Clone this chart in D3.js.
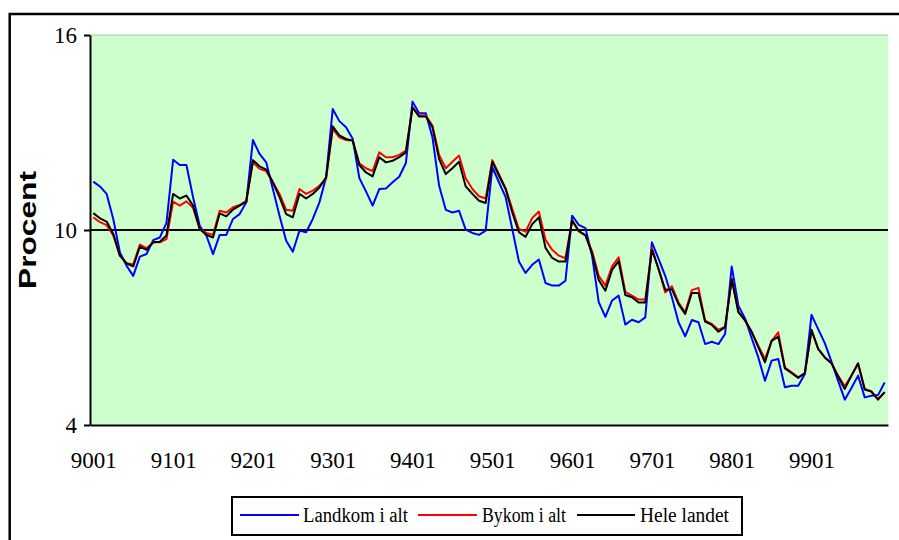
<!DOCTYPE html>
<html>
<head>
<meta charset="utf-8">
<script src="https://cdn.jsdelivr.net/npm/d3@7"></script>
<style>
  body { margin: 0; background: #fff; }
  svg text.serif { font-family: "Liberation Serif", "Times New Roman", Times, serif; }
</style>
</head>
<body>
<div id="chart"></div>
<script>
// Monthly data 9001 - 9912 (procent)
const years = ["90", "91", "92", "93", "94", "95", "96", "97", "98", "99"];
const monthCodes = ["01", "02", "03", "04", "05", "06", "07", "08", "09", "10", "11", "12"];
const xTickLabels = ["9001", "9101", "9201", "9301", "9401", "9501", "9601", "9701", "9801", "9901"];
const yTickValues = [4, 10, 16];

const landkom = [
  11.49, 11.34, 11.11, 10.34, 9.31, 8.90, 8.59, 9.18, 9.26, 9.69, 9.77, 10.22,
  12.16, 12.00, 12.00, 11.01, 10.13, 9.83, 9.26, 9.85, 9.85, 10.34, 10.49, 10.85,
  12.77, 12.34, 12.08, 11.26, 10.44, 9.67, 9.33, 9.98, 9.93, 10.34, 10.85, 11.62,
  13.72, 13.35, 13.16, 12.81, 11.60, 11.19, 10.75, 11.26, 11.28, 11.47, 11.64, 12.06,
  13.95, 13.59, 13.59, 12.85, 11.36, 10.62, 10.54, 10.59, 10.01, 9.91, 9.85, 9.98,
  11.93, 11.47, 11.01, 10.03, 9.03, 8.68, 8.93, 9.09, 8.37, 8.29, 8.29, 8.44,
  10.44, 10.16, 10.06, 9.21, 7.78, 7.33, 7.83, 7.98, 7.09, 7.24, 7.16, 7.31,
  9.62, 9.11, 8.59, 7.93, 7.16, 6.73, 7.23, 7.16, 6.49, 6.56, 6.49, 6.80,
  8.88, 7.67, 7.28, 6.67, 6.08, 5.36, 5.98, 6.03, 5.16, 5.21, 5.21, 5.57,
  7.39, 6.95, 6.52, 5.95, 5.36, 4.78, 5.14, 5.52, 4.85, 4.90, 4.92, 5.31
];

const bykom = [
  10.39, 10.24, 10.15, 9.83, 9.21, 8.98, 8.94, 9.55, 9.44, 9.62, 9.62, 9.72,
  10.87, 10.75, 10.88, 10.68, 10.03, 9.91, 9.85, 10.59, 10.54, 10.70, 10.77, 10.90,
  12.08, 11.88, 11.81, 11.47, 11.11, 10.62, 10.59, 11.26, 11.11, 11.21, 11.36, 11.57,
  13.11, 12.85, 12.77, 12.75, 12.05, 11.90, 11.81, 12.39, 12.24, 12.24, 12.31, 12.44,
  13.77, 13.52, 13.52, 13.21, 12.31, 11.90, 12.10, 12.29, 11.59, 11.26, 11.04, 10.97,
  12.15, 11.72, 11.28, 10.65, 10.03, 9.95, 10.37, 10.57, 9.70, 9.39, 9.21, 9.13,
  10.30, 9.96, 9.83, 9.35, 8.59, 8.29, 8.88, 9.16, 8.10, 7.98, 7.86, 7.86,
  9.44, 8.80, 8.08, 8.27, 7.77, 7.47, 8.15, 8.22, 7.21, 7.11, 6.93, 7.03,
  8.49, 7.49, 7.21, 6.85, 6.44, 6.03, 6.59, 6.85, 5.77, 5.62, 5.47, 5.60,
  6.90, 6.34, 6.08, 5.90, 5.52, 5.19, 5.52, 5.88, 5.11, 5.03, 4.80, 5.01
];

const heleLandet = [
  10.52, 10.36, 10.26, 9.88, 9.21, 8.97, 8.88, 9.49, 9.39, 9.62, 9.64, 9.83,
  11.11, 10.97, 11.06, 10.75, 10.03, 9.85, 9.77, 10.51, 10.42, 10.63, 10.75, 10.87,
  12.15, 11.96, 11.86, 11.47, 11.01, 10.49, 10.39, 11.11, 10.97, 11.11, 11.31, 11.62,
  13.19, 12.91, 12.80, 12.75, 12.00, 11.77, 11.65, 12.24, 12.08, 12.13, 12.24, 12.39,
  13.77, 13.49, 13.49, 13.16, 12.18, 11.72, 11.90, 12.10, 11.34, 11.11, 10.90, 10.83,
  12.10, 11.67, 11.26, 10.54, 9.93, 9.79, 10.18, 10.39, 9.45, 9.14, 9.03, 9.03,
  10.29, 9.97, 9.84, 9.28, 8.46, 8.13, 8.77, 9.04, 8.00, 7.93, 7.77, 7.77,
  9.39, 8.80, 8.16, 8.18, 7.72, 7.42, 8.06, 8.06, 7.18, 7.08, 6.87, 7.01,
  8.49, 7.47, 7.23, 6.87, 6.39, 5.93, 6.59, 6.72, 5.74, 5.60, 5.45, 5.60,
  6.93, 6.34, 6.08, 5.90, 5.49, 5.11, 5.52, 5.90, 5.09, 5.03, 4.78, 5.01
];

const seriesNames = ["Landkom i alt", "Bykom i alt", "Hele landet"];
const seriesColors = ["#0000ff", "#ff0000", "#000000"];

// category labels 9001 .. 9912
const months = [];
years.forEach(yy => monthCodes.forEach(mm => months.push(yy + mm)));

const margin = {top: 35, right: 11, bottom: 115, left: 90},
  width = 899 - margin.left - margin.right,
  height = 540 - margin.top - margin.bottom;

const root = d3.select("#chart")
  .append("svg")
  .attr("width", 899)
  .attr("height", 540);

// outer chart frame (runs off the right and bottom of the picture)
root.append("rect")
  .attr("x", 9.7)
  .attr("y", 14)
  .attr("width", 920)
  .attr("height", 600)
  .attr("fill", "none")
  .attr("stroke", "#000")
  .attr("stroke-width", 2.5);

const svg = root.append("g")
  .attr("transform", `translate(${margin.left},${margin.top})`);

// scales
const x = d3.scalePoint()
  .domain(months)
  .range([0, width])
  .padding(0.5);

const y = d3.scaleLinear()
  .domain([4, 16])
  .range([height, 0]);

// plot area
svg.append("rect")
  .attr("width", width)
  .attr("height", height)
  .attr("fill", "#ccffcc");

// top gridline (16) is faint, the 10 gridline is black
svg.append("line")
  .attr("x1", 0).attr("x2", width)
  .attr("y1", y(16)).attr("y2", y(16))
  .attr("stroke", "#a8c8a8")
  .attr("stroke-width", 1);

svg.append("line")
  .attr("x1", 0).attr("x2", width)
  .attr("y1", y(10)).attr("y2", y(10))
  .attr("stroke", "#000")
  .attr("stroke-width", 2);

// y axis
const yAxis = svg.append("g")
  .call(d3.axisLeft(y)
    .tickValues(yTickValues)
    .tickSize(6)
    .tickSizeOuter(0)
    .tickPadding(7)
    .tickFormat(d3.format("d")));
yAxis.select(".domain").attr("stroke-width", 2);
yAxis.selectAll(".tick line").attr("stroke-width", 2);
yAxis.selectAll(".tick text")
  .attr("class", "serif")
  .style("font-size", "23px");

// x axis
const xAxis = svg.append("g")
  .attr("transform", `translate(0,${height})`)
  .call(d3.axisBottom(x)
    .tickValues(xTickLabels)
    .tickSize(0)
    .tickSizeOuter(0)
    .tickPadding(27));
xAxis.select(".domain").attr("stroke-width", 2);
xAxis.selectAll(".tick text")
  .attr("class", "serif")
  .style("font-size", "23px")
  .attr("textLength", 46)
  .attr("lengthAdjust", "spacingAndGlyphs");

// y axis title
root.append("text")
  .attr("transform", "translate(36,230) rotate(-90)")
  .attr("text-anchor", "middle")
  .style("font-family", "'Liberation Sans', Arial, sans-serif")
  .style("font-weight", "bold")
  .style("font-size", "24px")
  .attr("textLength", 118)
  .attr("lengthAdjust", "spacingAndGlyphs")
  .text("Procent");

// lines
const line = d3.line()
  .x((d, i) => x(months[i]))
  .y(d => y(d));

[landkom, bykom, heleLandet].forEach((s, k) => {
  svg.append("path")
    .datum(s)
    .attr("fill", "none")
    .attr("stroke", seriesColors[k])
    .attr("stroke-width", 2)
    .attr("stroke-linejoin", "round")
    .attr("d", line);
});

// legend
const legend = root.append("g");
legend.append("rect")
  .attr("x", 232)
  .attr("y", 497)
  .attr("width", 510)
  .attr("height", 38)
  .attr("fill", "#fff")
  .attr("stroke", "#000")
  .attr("stroke-width", 2);

const legendItems = [
  {x1: 240, x2: 299, tx: 303, tw: 105},
  {x1: 418, x2: 477, tx: 482, tw: 84},
  {x1: 577, x2: 635, tx: 640, tw: 89}
];
legendItems.forEach((it, k) => {
  legend.append("line")
    .attr("x1", it.x1).attr("x2", it.x2)
    .attr("y1", 515).attr("y2", 515)
    .attr("stroke", seriesColors[k])
    .attr("stroke-width", 2);
  legend.append("text")
    .attr("class", "serif")
    .attr("x", it.tx)
    .attr("y", 522)
    .style("font-size", "20px")
    .attr("textLength", it.tw)
    .attr("lengthAdjust", "spacingAndGlyphs")
    .text(seriesNames[k]);
});
</script>
</body>
</html>
